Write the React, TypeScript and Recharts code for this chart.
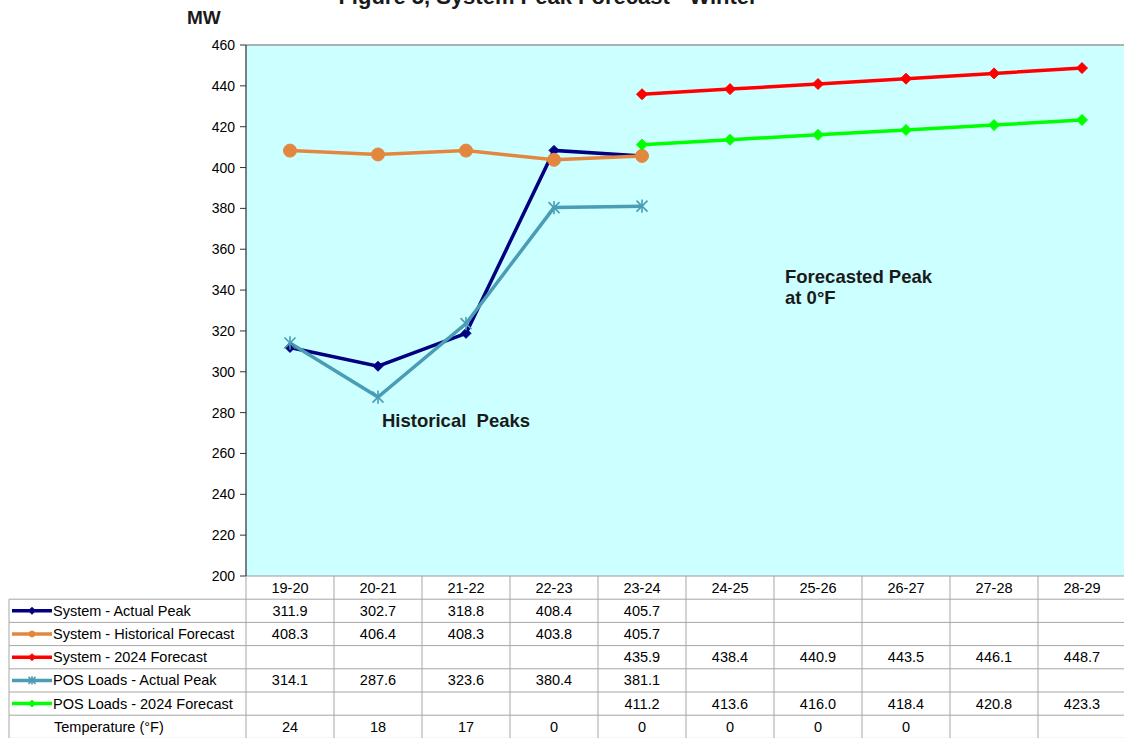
import React from "react";
import {
  ComposedChart,
  Line,
  XAxis,
  YAxis,
  CartesianGrid,
  ReferenceLine,
  Customized,
} from "recharts";

const categories = ["19-20", "20-21", "21-22", "22-23", "23-24", "24-25", "25-26", "26-27", "27-28", "28-29"];
const systemActual = [311.9, 302.7, 318.8, 408.4, 405.7, null, null, null, null, null];
const systemHistorical = [408.3, 406.4, 408.3, 403.8, 405.7, null, null, null, null, null];
const system2024 = [null, null, null, null, 435.9, 438.4, 440.9, 443.5, 446.1, 448.7];
const posActual = [314.1, 287.6, 323.6, 380.4, 381.1, null, null, null, null, null];
const pos2024 = [null, null, null, null, 411.2, 413.6, 416.0, 418.4, 420.8, 423.3];
const temperature = [24, 18, 17, 0, 0, 0, 0, 0, null, null];
const yTicks = [200, 220, 240, 260, 280, 300, 320, 340, 360, 380, 400, 420, 440, 460];

const data = categories.map((c, i) => ({
  cat: c,
  sa: systemActual[i],
  sh: systemHistorical[i],
  s24: system2024[i],
  pa: posActual[i],
  p24: pos2024[i],
  temp: temperature[i],
}));

const FONT = "'Liberation Sans', Arial, sans-serif";
const CHART_W = 1130;
const CHART_H = 738;
const M_TOP = 45;
const M_RIGHT = 4;
const Y_W = 246;
const X_H = 162;
const PLOT_W = CHART_W - Y_W - M_RIGHT;
const COL_W = PLOT_W / categories.length;
const TABLE_TOP = CHART_H - X_H;
const ROW_H = 23.2;
const LEGEND_LEFT = 9;
const GRID = "#a6a6a6";
const TXT = 14.5;

const C_NAVY = "#000080";
const C_ORANGE = "#E3873F";
const C_RED = "#FF0000";
const C_TEAL = "#4A9DB5";
const C_GREEN = "#00FF00";

type Marker = "diamond" | "circle" | "star";

const drawMarker = (kind: Marker, cx: number, cy: number, color: string, s: number, key?: string) => {
  if (kind === "diamond") {
    return (
      <path key={key} d={`M${cx},${cy - s} L${cx + s},${cy} L${cx},${cy + s} L${cx - s},${cy} Z`} fill={color} stroke={color} strokeWidth={1} />
    );
  }
  if (kind === "circle") {
    return <circle key={key} cx={cx} cy={cy} r={s} fill={color} stroke={color} />;
  }
  return (
    <g key={key} stroke={color} strokeWidth={1.6}>
      <line x1={cx - s} y1={cy - s} x2={cx + s} y2={cy + s} />
      <line x1={cx - s} y1={cy + s} x2={cx + s} y2={cy - s} />
      <line x1={cx} y1={cy - s * 1.2} x2={cx} y2={cy + s * 1.2} />
    </g>
  );
};

const makeDot = (kind: Marker, color: string, s: number) => (props: any) => {
  const { cx, cy, index, value } = props;
  if (cx == null || cy == null || value == null || (Array.isArray(value) && value[1] == null)) {
    return <g key={`e-${index}`} />;
  }
  return drawMarker(kind, cx, cy, color, s, `d-${index}`);
};

const rows: { label: string; color?: string; marker?: Marker; values: (number | null)[]; decimals: number }[] = [
  { label: "System - Actual Peak", color: C_NAVY, marker: "diamond", values: systemActual, decimals: 1 },
  { label: "System - Historical Forecast", color: C_ORANGE, marker: "circle", values: systemHistorical, decimals: 1 },
  { label: "System - 2024 Forecast", color: C_RED, marker: "diamond", values: system2024, decimals: 1 },
  { label: "POS Loads - Actual Peak", color: C_TEAL, marker: "star", values: posActual, decimals: 1 },
  { label: "POS Loads - 2024 Forecast", color: C_GREEN, marker: "diamond", values: pos2024, decimals: 1 },
  { label: "Temperature (°F)", values: temperature, decimals: 0 },
];

const TableTick = (props: any) => {
  const { x, index, payload } = props;
  const left = x - COL_W / 2;
  const right = x + COL_W / 2;
  const bottom = TABLE_TOP + ROW_H * (rows.length + 1);
  const els: React.ReactNode[] = [];
  els.push(<line key="vr" x1={right} y1={TABLE_TOP} x2={right} y2={bottom} stroke={GRID} strokeWidth={1} />);
  if (index === 0) {
    const tableRight = left + COL_W * categories.length;
    els.push(<line key="vl" x1={left} y1={TABLE_TOP} x2={left} y2={bottom} stroke={GRID} strokeWidth={1} />);
    els.push(<line key="vll" x1={LEGEND_LEFT} y1={TABLE_TOP + ROW_H} x2={LEGEND_LEFT} y2={bottom} stroke={GRID} strokeWidth={1} />);
    for (let r = 1; r <= rows.length + 1; r++) {
      const yy = TABLE_TOP + ROW_H * r;
      els.push(<line key={`h${r}`} x1={LEGEND_LEFT} y1={yy} x2={tableRight} y2={yy} stroke={GRID} strokeWidth={1} />);
    }
    rows.forEach((row, r) => {
      const cy = TABLE_TOP + ROW_H * (r + 1) + ROW_H / 2;
      if (row.color && row.marker) {
        els.push(<line key={`ls${r}`} x1={12} y1={cy} x2={52} y2={cy} stroke={row.color} strokeWidth={3.5} />);
        els.push(drawMarker(row.marker, 32, cy, row.color, row.marker === "circle" ? 3 : 3.5, `lm${r}`));
      }
      els.push(
        <text key={`lt${r}`} x={row.color ? 53 : 54} y={cy} dy="0.35em" fontSize={TXT} fontFamily={FONT} fill="#000">
          {row.label}
        </text>
      );
    });
  }
  els.push(
    <text key="cat" x={x} y={TABLE_TOP + ROW_H / 2} dy="0.35em" textAnchor="middle" fontSize={TXT} fontFamily={FONT} fill="#000">
      {payload.value}
    </text>
  );
  rows.forEach((row, r) => {
    const v = row.values[index];
    if (v == null) return;
    const cy = TABLE_TOP + ROW_H * (r + 1) + ROW_H / 2;
    els.push(
      <text key={`v${r}`} x={x} y={cy} dy="0.35em" textAnchor="middle" fontSize={TXT} fontFamily={FONT} fill="#000">
        {v.toFixed(row.decimals)}
      </text>
    );
  });
  return <g>{els}</g>;
};

const Annotations = () => (
  <g fontFamily={FONT} fontWeight="bold" fill="#1a1a1a">
    <text x={548} y={4} textAnchor="middle" fontSize={22}>
      Figure 5, System Peak Forecast - Winter
    </text>
    <text x={187} y={24} fontSize={19}>MW</text>
    <text x={382} y={427} fontSize={18.5} style={{ whiteSpace: "pre" }} xmlSpace="preserve">
      Historical  Peaks
    </text>
    <text x={785} y={283} fontSize={18.5}>Forecasted Peak</text>
    <text x={785} y={304} fontSize={18.5}>at 0°F</text>
  </g>
);

export default function App() {
  return (
    <div style={{ position: "absolute", left: 0, top: 0, width: 1124, height: 738, overflow: "hidden", background: "#fff" }}>
      <ComposedChart
        width={CHART_W}
        height={CHART_H}
        data={data}
        margin={{ top: M_TOP, right: M_RIGHT, left: 0, bottom: 0 }}
      >
        <CartesianGrid fill="#CCFFFF" horizontal={false} vertical={false} />
        <ReferenceLine y={460} stroke="#999" strokeWidth={1.5} />
        <XAxis
          dataKey="cat"
          height={X_H}
          interval={0}
          tickLine={false}
          padding={{ left: COL_W / 2, right: COL_W / 2 }}
          axisLine={{ stroke: "#999", strokeWidth: 1 }}
          tick={<TableTick />}
        />
        <YAxis
          domain={[200, 460]}
          ticks={yTicks}
          width={Y_W}
          interval={0}
          tickSize={6}
          tickMargin={5}
          axisLine={{ stroke: "#555", strokeWidth: 1.5 }}
          tickLine={{ stroke: "#333" }}
          tick={{ fontSize: 14, fill: "#000", fontFamily: FONT }}
        />
        <Line dataKey="sa" stroke={C_NAVY} strokeWidth={3.5} dot={makeDot("diamond", C_NAVY, 5)} isAnimationActive={false} activeDot={false} />
        <Line dataKey="sh" stroke={C_ORANGE} strokeWidth={3.5} dot={makeDot("circle", C_ORANGE, 6.5)} isAnimationActive={false} activeDot={false} />
        <Line dataKey="s24" stroke={C_RED} strokeWidth={3.5} dot={makeDot("diamond", C_RED, 5.5)} isAnimationActive={false} activeDot={false} />
        <Line dataKey="pa" stroke={C_TEAL} strokeWidth={3.5} dot={makeDot("star", C_TEAL, 5.5)} isAnimationActive={false} activeDot={false} />
        <Line dataKey="p24" stroke={C_GREEN} strokeWidth={3.5} dot={makeDot("diamond", C_GREEN, 5.5)} isAnimationActive={false} activeDot={false} />
        <Customized component={<Annotations />} />
      </ComposedChart>
    </div>
  );
}
